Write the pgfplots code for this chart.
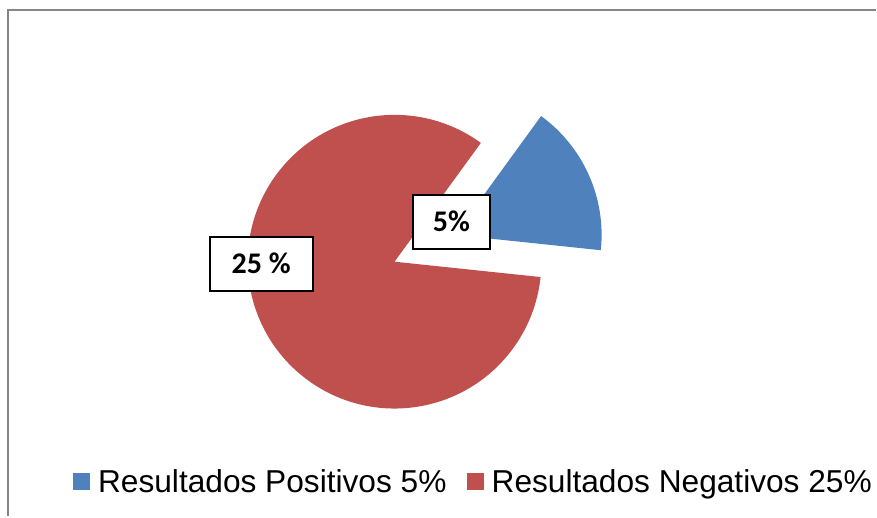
\documentclass[border=0pt]{standalone}
\usepackage{pgfplots}
\pgfplotsset{compat=1.18}
\usepackage{fontspec}
\setmainfont{Liberation Sans}
\newfontfamily\carlito{Carlito}
\definecolor{pieblue}{HTML}{4F81BD}
\definecolor{piered}{HTML}{C0504D}
\definecolor{framegray}{HTML}{868686}
% data
\def\valPos{5}
\def\valNeg{25}
\begin{document}
\begin{tikzpicture}
\pgfmathsetmacro\total{\valPos+\valNeg}
\pgfmathsetmacro\spanPos{360*\valPos/\total}
\pgfmathsetmacro\startPos{-6}
\pgfmathsetmacro\endPos{\startPos+\spanPos}
\pgfmathsetmacro\endNeg{\startPos+360}
\pgfmathsetmacro\midPos{\startPos+\spanPos/2}
\begin{axis}[
  scale only axis, width=877bp, height=517bp,
  xmin=0, xmax=877, ymin=0, ymax=517,
  hide axis, clip=false,
]
\path (axis cs:0,0) rectangle (axis cs:877,517);
% frame
\draw[framegray, line width=2bp] (axis cs:8,0) -- (axis cs:8,507) -- (axis cs:877,507);
% red slice
\fill[piered] (axis cs:395,255) -- ++(\endPos:147bp) arc[start angle=\endPos, end angle=\endNeg, radius=147bp] -- cycle;
% blue slice (exploded)
\fill[pieblue] ([shift={(\midPos:66bp)}]axis cs:395,255) -- ++(\startPos:147bp) arc[start angle=\startPos, end angle=\endPos, radius=147bp] -- cycle;
% data labels
\node[draw=black, line width=2bp, fill=white, minimum width=78bp, minimum height=54bp, inner sep=0pt, font=\carlito\bfseries\fontsize{30bp}{36bp}\selectfont] at (axis cs:452,295) {5\%};
\node[draw=black, line width=2bp, fill=white, minimum width=103bp, minimum height=54bp, inner sep=0pt, font=\carlito\bfseries\fontsize{30bp}{36bp}\selectfont] at (axis cs:261.5,253) {25 \%};
% legend
\fill[pieblue] (axis cs:73,26) rectangle (axis cs:90,43);
\node[anchor=base west, inner sep=0pt, font=\fontsize{31.7bp}{38bp}\selectfont] at (axis cs:98,24) {Resultados Positivos 5\%};
\fill[piered] (axis cs:468,26) rectangle (axis cs:485,43);
\node[anchor=base west, inner sep=0pt, font=\fontsize{31.7bp}{38bp}\selectfont] at (axis cs:492,24) {Resultados Negativos 25\%};
\end{axis}
\end{tikzpicture}
\end{document}
